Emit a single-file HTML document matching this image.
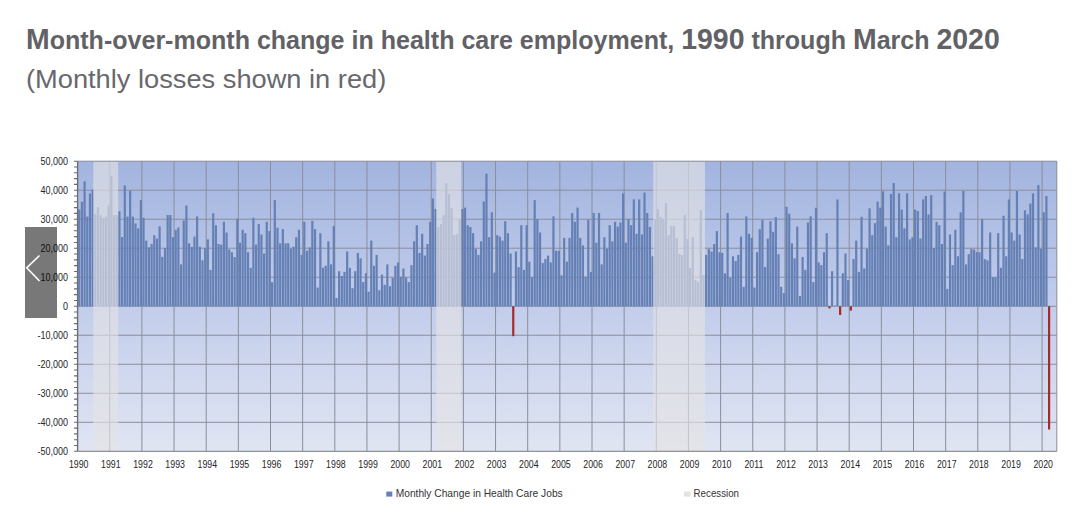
<!DOCTYPE html>
<html><head><meta charset="utf-8"><title>Health care employment chart</title>
<style>
html,body{margin:0;padding:0;background:#fff;}
body{width:1080px;height:515px;overflow:hidden;position:relative;}
#wrap{position:absolute;left:0;top:0;width:1080px;height:515px;background:#fff;}
#chart{position:absolute;left:0;top:0;}
.t{position:absolute;left:0;top:0;white-space:nowrap;font-family:"Liberation Sans",Arial,sans-serif;transform-origin:0 0;}
#title{font-weight:bold;font-size:25.2px;line-height:1;color:#616166;left:26.2px;top:25.2px;transform:scaleX(0.994);}
#title .c{font-size:28.6px;}
#sub{font-size:26.4px;line-height:1;color:#68686d;left:26.3px;top:66px;transform:scaleX(1.032);}
#nav{position:absolute;left:25px;top:227.3px;width:32px;height:90.8px;background:rgba(0,0,0,0.53);}
</style></head><body><div id="wrap">
<svg id="chart" width="1080" height="515" viewBox="0 0 1080 515">
<defs>
<linearGradient id="bg" x1="0" y1="0" x2="0" y2="1">
<stop offset="0" stop-color="#a2b4df"/>
<stop offset="0.5" stop-color="#c2cdeb"/>
<stop offset="1" stop-color="#e0e5f3"/>
</linearGradient>
</defs>
<rect x="77.6" y="161.2" width="979.2" height="290.1" fill="url(#bg)"/>
<path d="M77.6 190.21H1056.8M77.6 219.22H1056.8M77.6 248.23H1056.8M77.6 277.24H1056.8M77.6 306.25H1056.8M77.6 335.26H1056.8M77.6 364.27H1056.8M77.6 393.28H1056.8M77.6 422.29H1056.8" stroke="#8b8e9a" stroke-width="1" fill="none"/>
<path d="M109.75 161.2V451.3M141.9 161.2V451.3M174.05 161.2V451.3M206.2 161.2V451.3M238.35 161.2V451.3M270.5 161.2V451.3M302.65 161.2V451.3M334.8 161.2V451.3M366.95 161.2V451.3M399.1 161.2V451.3M431.25 161.2V451.3M463.4 161.2V451.3M495.55 161.2V451.3M527.7 161.2V451.3M559.85 161.2V451.3M592 161.2V451.3M624.15 161.2V451.3M656.3 161.2V451.3M688.45 161.2V451.3M720.6 161.2V451.3M752.75 161.2V451.3M784.9 161.2V451.3M817.05 161.2V451.3M849.2 161.2V451.3M881.35 161.2V451.3M913.5 161.2V451.3M945.65 161.2V451.3M977.8 161.2V451.3M1009.95 161.2V451.3M1042.1 161.2V451.3" stroke="#8b8e9a" stroke-width="1" fill="none"/>
<g fill="#6580b4"><rect x="78.14" y="209.6" width="2.2" height="96.65"/><rect x="80.82" y="201.7" width="2.2" height="104.55"/><rect x="83.5" y="181.3" width="2.2" height="124.95"/><rect x="86.18" y="216.6" width="2.2" height="89.65"/><rect x="88.86" y="193.5" width="2.2" height="112.75"/><rect x="91.54" y="189.5" width="2.2" height="116.75"/><rect x="94.21" y="213.9" width="2.2" height="92.35"/><rect x="96.89" y="207.1" width="2.2" height="99.15"/><rect x="99.57" y="215.3" width="2.2" height="90.95"/><rect x="102.25" y="218" width="2.2" height="88.25"/><rect x="104.93" y="216.6" width="2.2" height="89.65"/><rect x="107.61" y="205.8" width="2.2" height="100.45"/><rect x="110.29" y="175.9" width="2.2" height="130.35"/><rect x="112.97" y="215.3" width="2.2" height="90.95"/><rect x="115.65" y="215" width="2.2" height="91.25"/><rect x="118.33" y="211.2" width="2.2" height="95.05"/><rect x="121.01" y="237" width="2.2" height="69.25"/><rect x="123.69" y="185.4" width="2.2" height="120.85"/><rect x="126.36" y="216.6" width="2.2" height="89.65"/><rect x="129.04" y="190.8" width="2.2" height="115.45"/><rect x="131.72" y="216.6" width="2.2" height="89.65"/><rect x="134.4" y="223.4" width="2.2" height="82.85"/><rect x="137.08" y="228.4" width="2.2" height="77.85"/><rect x="139.76" y="200.1" width="2.2" height="106.15"/><rect x="142.44" y="217.8" width="2.2" height="88.45"/><rect x="145.12" y="240.6" width="2.2" height="65.65"/><rect x="147.8" y="247.4" width="2.2" height="58.85"/><rect x="150.48" y="244" width="2.2" height="62.25"/><rect x="153.16" y="235.2" width="2.2" height="71.05"/><rect x="155.84" y="238.6" width="2.2" height="67.65"/><rect x="158.51" y="226.3" width="2.2" height="79.95"/><rect x="161.19" y="256.9" width="2.2" height="49.35"/><rect x="163.87" y="248.1" width="2.2" height="58.15"/><rect x="166.55" y="215" width="2.2" height="91.25"/><rect x="169.23" y="215" width="2.2" height="91.25"/><rect x="171.91" y="237.2" width="2.2" height="69.05"/><rect x="174.59" y="229.8" width="2.2" height="76.45"/><rect x="177.27" y="227.5" width="2.2" height="78.75"/><rect x="179.95" y="264.4" width="2.2" height="41.85"/><rect x="182.63" y="220.5" width="2.2" height="85.75"/><rect x="185.31" y="205.5" width="2.2" height="100.75"/><rect x="187.99" y="243.3" width="2.2" height="62.95"/><rect x="190.66" y="247" width="2.2" height="59.25"/><rect x="193.34" y="236.6" width="2.2" height="69.65"/><rect x="196.02" y="216.4" width="2.2" height="89.85"/><rect x="198.7" y="246.7" width="2.2" height="59.55"/><rect x="201.38" y="260.3" width="2.2" height="45.95"/><rect x="204.06" y="248.1" width="2.2" height="58.15"/><rect x="206.74" y="239.3" width="2.2" height="66.95"/><rect x="209.42" y="269.9" width="2.2" height="36.35"/><rect x="212.1" y="213.3" width="2.2" height="92.95"/><rect x="214.78" y="225.2" width="2.2" height="81.05"/><rect x="217.46" y="244" width="2.2" height="62.25"/><rect x="220.14" y="244.7" width="2.2" height="61.55"/><rect x="222.81" y="221.8" width="2.2" height="84.45"/><rect x="225.49" y="232.5" width="2.2" height="73.75"/><rect x="228.17" y="249.5" width="2.2" height="56.75"/><rect x="230.85" y="252.2" width="2.2" height="54.05"/><rect x="233.53" y="257" width="2.2" height="49.25"/><rect x="236.21" y="218.7" width="2.2" height="87.55"/><rect x="238.89" y="242.7" width="2.2" height="63.55"/><rect x="241.57" y="229.8" width="2.2" height="76.45"/><rect x="244.25" y="233.2" width="2.2" height="73.05"/><rect x="246.93" y="252.2" width="2.2" height="54.05"/><rect x="249.61" y="267.8" width="2.2" height="38.45"/><rect x="252.29" y="217.8" width="2.2" height="88.45"/><rect x="254.96" y="244.7" width="2.2" height="61.55"/><rect x="257.64" y="223.9" width="2.2" height="82.35"/><rect x="260.32" y="234.5" width="2.2" height="71.75"/><rect x="263" y="253.5" width="2.2" height="52.75"/><rect x="265.68" y="221.8" width="2.2" height="84.45"/><rect x="268.36" y="231.1" width="2.2" height="75.15"/><rect x="271.04" y="282.1" width="2.2" height="24.15"/><rect x="273.72" y="200.1" width="2.2" height="106.15"/><rect x="276.4" y="227.7" width="2.2" height="78.55"/><rect x="279.08" y="243.3" width="2.2" height="62.95"/><rect x="281.76" y="229.1" width="2.2" height="77.15"/><rect x="284.44" y="243.3" width="2.2" height="62.95"/><rect x="287.11" y="243.3" width="2.2" height="62.95"/><rect x="289.79" y="248.8" width="2.2" height="57.45"/><rect x="292.47" y="246.7" width="2.2" height="59.55"/><rect x="295.15" y="237.2" width="2.2" height="69.05"/><rect x="297.83" y="229.8" width="2.2" height="76.45"/><rect x="300.51" y="254.9" width="2.2" height="51.35"/><rect x="303.19" y="221.8" width="2.2" height="84.45"/><rect x="305.87" y="250.8" width="2.2" height="55.45"/><rect x="308.55" y="247.4" width="2.2" height="58.85"/><rect x="311.23" y="220.9" width="2.2" height="85.35"/><rect x="313.91" y="229.1" width="2.2" height="77.15"/><rect x="316.59" y="287.5" width="2.2" height="18.75"/><rect x="319.26" y="233.2" width="2.2" height="73.05"/><rect x="321.94" y="267.8" width="2.2" height="38.45"/><rect x="324.62" y="265.8" width="2.2" height="40.45"/><rect x="327.3" y="241.3" width="2.2" height="64.95"/><rect x="329.98" y="264.4" width="2.2" height="41.85"/><rect x="332.66" y="225.9" width="2.2" height="80.35"/><rect x="335.34" y="298" width="2.2" height="8.25"/><rect x="338.02" y="271.2" width="2.2" height="35.05"/><rect x="340.7" y="276" width="2.2" height="30.25"/><rect x="343.38" y="271.9" width="2.2" height="34.35"/><rect x="346.06" y="251.5" width="2.2" height="54.75"/><rect x="348.74" y="267.8" width="2.2" height="38.45"/><rect x="351.41" y="288.2" width="2.2" height="18.05"/><rect x="354.09" y="271.2" width="2.2" height="35.05"/><rect x="356.77" y="252.9" width="2.2" height="53.35"/><rect x="359.45" y="258.3" width="2.2" height="47.95"/><rect x="362.13" y="282.1" width="2.2" height="24.15"/><rect x="364.81" y="273.3" width="2.2" height="32.95"/><rect x="367.49" y="291.6" width="2.2" height="14.65"/><rect x="370.17" y="240.6" width="2.2" height="65.65"/><rect x="372.85" y="265.8" width="2.2" height="40.45"/><rect x="375.53" y="254.9" width="2.2" height="51.35"/><rect x="378.21" y="290.2" width="2.2" height="16.05"/><rect x="380.89" y="274.6" width="2.2" height="31.65"/><rect x="383.56" y="284.8" width="2.2" height="21.45"/><rect x="386.24" y="264.4" width="2.2" height="41.85"/><rect x="388.92" y="286.2" width="2.2" height="20.05"/><rect x="391.6" y="278" width="2.2" height="28.25"/><rect x="394.28" y="265.8" width="2.2" height="40.45"/><rect x="396.96" y="262.4" width="2.2" height="43.85"/><rect x="399.64" y="276.7" width="2.2" height="29.55"/><rect x="402.32" y="268.5" width="2.2" height="37.75"/><rect x="405" y="277.3" width="2.2" height="28.95"/><rect x="407.68" y="282.1" width="2.2" height="24.15"/><rect x="410.36" y="265.1" width="2.2" height="41.15"/><rect x="413.04" y="241.3" width="2.2" height="64.95"/><rect x="415.71" y="225.2" width="2.2" height="81.05"/><rect x="418.39" y="252.9" width="2.2" height="53.35"/><rect x="421.07" y="233.8" width="2.2" height="72.45"/><rect x="423.75" y="255.6" width="2.2" height="50.65"/><rect x="426.43" y="244" width="2.2" height="62.25"/><rect x="429.11" y="221.8" width="2.2" height="84.45"/><rect x="431.79" y="198.5" width="2.2" height="107.75"/><rect x="434.47" y="208.9" width="2.2" height="97.35"/><rect x="437.15" y="227" width="2.2" height="79.25"/><rect x="439.83" y="224" width="2.2" height="82.25"/><rect x="442.51" y="215" width="2.2" height="91.25"/><rect x="445.19" y="183" width="2.2" height="123.25"/><rect x="447.86" y="194" width="2.2" height="112.25"/><rect x="450.54" y="208" width="2.2" height="98.25"/><rect x="453.22" y="235" width="2.2" height="71.25"/><rect x="455.9" y="234" width="2.2" height="72.25"/><rect x="458.58" y="219" width="2.2" height="87.25"/><rect x="461.26" y="209" width="2.2" height="97.25"/><rect x="463.94" y="207.6" width="2.2" height="98.65"/><rect x="466.62" y="225.2" width="2.2" height="81.05"/><rect x="469.3" y="227" width="2.2" height="79.25"/><rect x="471.98" y="233.2" width="2.2" height="73.05"/><rect x="474.66" y="248.8" width="2.2" height="57.45"/><rect x="477.34" y="254.9" width="2.2" height="51.35"/><rect x="480.01" y="241.3" width="2.2" height="64.95"/><rect x="482.69" y="201.5" width="2.2" height="104.75"/><rect x="485.37" y="173.6" width="2.2" height="132.65"/><rect x="488.05" y="237.2" width="2.2" height="69.05"/><rect x="490.73" y="212.3" width="2.2" height="93.95"/><rect x="493.41" y="272.6" width="2.2" height="33.65"/><rect x="496.09" y="235.2" width="2.2" height="71.05"/><rect x="498.77" y="236.6" width="2.2" height="69.65"/><rect x="501.45" y="240.6" width="2.2" height="65.65"/><rect x="504.13" y="221.2" width="2.2" height="85.05"/><rect x="506.81" y="233.2" width="2.2" height="73.05"/><rect x="509.49" y="253.5" width="2.2" height="52.75"/><rect x="514.84" y="251.5" width="2.2" height="54.75"/><rect x="517.52" y="267.1" width="2.2" height="39.15"/><rect x="520.2" y="225.2" width="2.2" height="81.05"/><rect x="522.88" y="269.9" width="2.2" height="36.35"/><rect x="525.56" y="225.2" width="2.2" height="81.05"/><rect x="528.24" y="261.7" width="2.2" height="44.55"/><rect x="530.92" y="277.3" width="2.2" height="28.95"/><rect x="533.6" y="200.1" width="2.2" height="106.15"/><rect x="536.28" y="219.1" width="2.2" height="87.15"/><rect x="538.96" y="232.5" width="2.2" height="73.75"/><rect x="541.64" y="263.1" width="2.2" height="43.15"/><rect x="544.31" y="259" width="2.2" height="47.25"/><rect x="546.99" y="255.6" width="2.2" height="50.65"/><rect x="549.67" y="262.4" width="2.2" height="43.85"/><rect x="552.35" y="216.4" width="2.2" height="89.85"/><rect x="555.03" y="250.8" width="2.2" height="55.45"/><rect x="557.71" y="250.8" width="2.2" height="55.45"/><rect x="560.39" y="275.3" width="2.2" height="30.95"/><rect x="563.07" y="237.9" width="2.2" height="68.35"/><rect x="565.75" y="261.7" width="2.2" height="44.55"/><rect x="568.43" y="237.9" width="2.2" height="68.35"/><rect x="571.11" y="213" width="2.2" height="93.25"/><rect x="573.79" y="221.8" width="2.2" height="84.45"/><rect x="576.46" y="207.6" width="2.2" height="98.65"/><rect x="579.14" y="237.9" width="2.2" height="68.35"/><rect x="581.82" y="245.4" width="2.2" height="60.85"/><rect x="584.5" y="276.7" width="2.2" height="29.55"/><rect x="587.18" y="219.8" width="2.2" height="86.45"/><rect x="589.86" y="271.9" width="2.2" height="34.35"/><rect x="592.54" y="213" width="2.2" height="93.25"/><rect x="595.22" y="242.7" width="2.2" height="63.55"/><rect x="597.9" y="213" width="2.2" height="93.25"/><rect x="600.58" y="264.4" width="2.2" height="41.85"/><rect x="603.26" y="237.2" width="2.2" height="69.05"/><rect x="605.94" y="248.8" width="2.2" height="57.45"/><rect x="608.61" y="225.2" width="2.2" height="81.05"/><rect x="611.29" y="241.3" width="2.2" height="64.95"/><rect x="613.97" y="221.8" width="2.2" height="84.45"/><rect x="616.65" y="226.6" width="2.2" height="79.65"/><rect x="619.33" y="222.5" width="2.2" height="83.75"/><rect x="622.01" y="193.3" width="2.2" height="112.95"/><rect x="624.69" y="242.7" width="2.2" height="63.55"/><rect x="627.37" y="219.1" width="2.2" height="87.15"/><rect x="630.05" y="225.2" width="2.2" height="81.05"/><rect x="632.73" y="199.4" width="2.2" height="106.85"/><rect x="635.41" y="233.8" width="2.2" height="72.45"/><rect x="638.09" y="199.4" width="2.2" height="106.85"/><rect x="640.76" y="234.5" width="2.2" height="71.75"/><rect x="643.44" y="192.6" width="2.2" height="113.65"/><rect x="646.12" y="213" width="2.2" height="93.25"/><rect x="648.8" y="227" width="2.2" height="79.25"/><rect x="651.48" y="256.3" width="2.2" height="49.95"/><rect x="654.16" y="219" width="2.2" height="87.25"/><rect x="656.84" y="209" width="2.2" height="97.25"/><rect x="659.52" y="217" width="2.2" height="89.25"/><rect x="662.2" y="219" width="2.2" height="87.25"/><rect x="664.88" y="203" width="2.2" height="103.25"/><rect x="667.56" y="235" width="2.2" height="71.25"/><rect x="670.24" y="226" width="2.2" height="80.25"/><rect x="672.91" y="226" width="2.2" height="80.25"/><rect x="675.59" y="238" width="2.2" height="68.25"/><rect x="678.27" y="254" width="2.2" height="52.25"/><rect x="680.95" y="255" width="2.2" height="51.25"/><rect x="683.63" y="215" width="2.2" height="91.25"/><rect x="686.31" y="239" width="2.2" height="67.25"/><rect x="688.99" y="268" width="2.2" height="38.25"/><rect x="691.67" y="237" width="2.2" height="69.25"/><rect x="694.35" y="280" width="2.2" height="26.25"/><rect x="697.03" y="282" width="2.2" height="24.25"/><rect x="699.71" y="210" width="2.2" height="96.25"/><rect x="702.39" y="275" width="2.2" height="31.25"/><rect x="705.06" y="254.9" width="2.2" height="51.35"/><rect x="707.74" y="248.8" width="2.2" height="57.45"/><rect x="710.42" y="251.5" width="2.2" height="54.75"/><rect x="713.1" y="244" width="2.2" height="62.25"/><rect x="715.78" y="231.1" width="2.2" height="75.15"/><rect x="718.46" y="252.2" width="2.2" height="54.05"/><rect x="721.14" y="252.9" width="2.2" height="53.35"/><rect x="723.82" y="273.3" width="2.2" height="32.95"/><rect x="726.5" y="213" width="2.2" height="93.25"/><rect x="729.18" y="278" width="2.2" height="28.25"/><rect x="731.86" y="256.3" width="2.2" height="49.95"/><rect x="734.54" y="261" width="2.2" height="45.25"/><rect x="737.21" y="254.9" width="2.2" height="51.35"/><rect x="739.89" y="236.6" width="2.2" height="69.65"/><rect x="742.57" y="286.8" width="2.2" height="19.45"/><rect x="745.25" y="216.4" width="2.2" height="89.85"/><rect x="747.93" y="233.8" width="2.2" height="72.45"/><rect x="750.61" y="237.9" width="2.2" height="68.35"/><rect x="753.29" y="287.5" width="2.2" height="18.75"/><rect x="755.97" y="252.2" width="2.2" height="54.05"/><rect x="758.65" y="229.1" width="2.2" height="77.15"/><rect x="761.33" y="219.8" width="2.2" height="86.45"/><rect x="764.01" y="267.1" width="2.2" height="39.15"/><rect x="766.69" y="238.6" width="2.2" height="67.65"/><rect x="769.36" y="221.2" width="2.2" height="85.05"/><rect x="772.04" y="231.8" width="2.2" height="74.45"/><rect x="774.72" y="217.1" width="2.2" height="89.15"/><rect x="777.4" y="254.2" width="2.2" height="52.05"/><rect x="780.08" y="286.8" width="2.2" height="19.45"/><rect x="782.76" y="293" width="2.2" height="13.25"/><rect x="785.44" y="206.9" width="2.2" height="99.35"/><rect x="788.12" y="213.7" width="2.2" height="92.55"/><rect x="790.8" y="243.3" width="2.2" height="62.95"/><rect x="793.48" y="258.3" width="2.2" height="47.95"/><rect x="796.16" y="226.6" width="2.2" height="79.65"/><rect x="798.84" y="296" width="2.2" height="10.25"/><rect x="801.51" y="256.9" width="2.2" height="49.35"/><rect x="804.19" y="269.9" width="2.2" height="36.35"/><rect x="806.87" y="222.5" width="2.2" height="83.75"/><rect x="809.55" y="216.4" width="2.2" height="89.85"/><rect x="812.23" y="282.1" width="2.2" height="24.15"/><rect x="814.91" y="207.8" width="2.2" height="98.45"/><rect x="817.59" y="262.4" width="2.2" height="43.85"/><rect x="820.27" y="265.1" width="2.2" height="41.15"/><rect x="822.95" y="252.2" width="2.2" height="54.05"/><rect x="825.63" y="233.2" width="2.2" height="73.05"/><rect x="830.99" y="271.2" width="2.2" height="35.05"/><rect x="833.66" y="305.7" width="2.2" height="0.55"/><rect x="836.34" y="199.4" width="2.2" height="106.85"/><rect x="841.7" y="273.3" width="2.2" height="32.95"/><rect x="844.38" y="253.5" width="2.2" height="52.75"/><rect x="847.06" y="280.1" width="2.2" height="26.15"/><rect x="852.42" y="259" width="2.2" height="47.25"/><rect x="855.1" y="240.6" width="2.2" height="65.65"/><rect x="857.78" y="271.9" width="2.2" height="34.35"/><rect x="860.46" y="216.8" width="2.2" height="89.45"/><rect x="863.14" y="268.5" width="2.2" height="37.75"/><rect x="865.81" y="248.8" width="2.2" height="57.45"/><rect x="868.49" y="208.3" width="2.2" height="97.95"/><rect x="871.17" y="235.2" width="2.2" height="71.05"/><rect x="873.85" y="223.2" width="2.2" height="83.05"/><rect x="876.53" y="201.5" width="2.2" height="104.75"/><rect x="879.21" y="207.6" width="2.2" height="98.65"/><rect x="881.89" y="191.3" width="2.2" height="114.95"/><rect x="884.57" y="226.6" width="2.2" height="79.65"/><rect x="887.25" y="245.4" width="2.2" height="60.85"/><rect x="889.93" y="194" width="2.2" height="112.25"/><rect x="892.61" y="183.1" width="2.2" height="123.15"/><rect x="895.29" y="237.2" width="2.2" height="69.05"/><rect x="897.96" y="193.3" width="2.2" height="112.95"/><rect x="900.64" y="209.6" width="2.2" height="96.65"/><rect x="903.32" y="228.4" width="2.2" height="77.85"/><rect x="906" y="193.3" width="2.2" height="112.95"/><rect x="908.68" y="239.3" width="2.2" height="66.95"/><rect x="911.36" y="237.2" width="2.2" height="69.05"/><rect x="914.04" y="209.6" width="2.2" height="96.65"/><rect x="916.72" y="211" width="2.2" height="95.25"/><rect x="919.4" y="238.6" width="2.2" height="67.65"/><rect x="922.08" y="199.4" width="2.2" height="106.85"/><rect x="924.76" y="196" width="2.2" height="110.25"/><rect x="927.44" y="214.4" width="2.2" height="91.85"/><rect x="930.11" y="195.1" width="2.2" height="111.15"/><rect x="932.79" y="248.1" width="2.2" height="58.15"/><rect x="935.47" y="221.8" width="2.2" height="84.45"/><rect x="938.15" y="225.2" width="2.2" height="81.05"/><rect x="940.83" y="244" width="2.2" height="62.25"/><rect x="943.51" y="191.5" width="2.2" height="114.75"/><rect x="946.19" y="288.9" width="2.2" height="17.35"/><rect x="948.87" y="234.5" width="2.2" height="71.75"/><rect x="951.55" y="265.1" width="2.2" height="41.15"/><rect x="954.23" y="229.8" width="2.2" height="76.45"/><rect x="956.91" y="256.3" width="2.2" height="49.95"/><rect x="959.59" y="212.3" width="2.2" height="93.95"/><rect x="962.26" y="191" width="2.2" height="115.25"/><rect x="964.94" y="264.4" width="2.2" height="41.85"/><rect x="967.62" y="254.2" width="2.2" height="52.05"/><rect x="970.3" y="248.8" width="2.2" height="57.45"/><rect x="972.98" y="249.5" width="2.2" height="56.75"/><rect x="975.66" y="252" width="2.2" height="54.25"/><rect x="978.34" y="252.2" width="2.2" height="54.05"/><rect x="981.02" y="219.1" width="2.2" height="87.15"/><rect x="983.7" y="259" width="2.2" height="47.25"/><rect x="986.38" y="260.3" width="2.2" height="45.95"/><rect x="989.06" y="232.5" width="2.2" height="73.75"/><rect x="991.74" y="277.3" width="2.2" height="28.95"/><rect x="994.41" y="277.3" width="2.2" height="28.95"/><rect x="997.09" y="233.2" width="2.2" height="73.05"/><rect x="999.77" y="267.8" width="2.2" height="38.45"/><rect x="1002.45" y="215.7" width="2.2" height="90.55"/><rect x="1005.13" y="256.3" width="2.2" height="49.95"/><rect x="1007.81" y="199.4" width="2.2" height="106.85"/><rect x="1010.49" y="232.5" width="2.2" height="73.75"/><rect x="1013.17" y="240.6" width="2.2" height="65.65"/><rect x="1015.85" y="191" width="2.2" height="115.25"/><rect x="1018.53" y="234.5" width="2.2" height="71.75"/><rect x="1021.21" y="259" width="2.2" height="47.25"/><rect x="1023.89" y="210.3" width="2.2" height="95.95"/><rect x="1026.56" y="214.4" width="2.2" height="91.85"/><rect x="1029.24" y="203.5" width="2.2" height="102.75"/><rect x="1031.92" y="193.3" width="2.2" height="112.95"/><rect x="1034.6" y="247.4" width="2.2" height="58.85"/><rect x="1037.28" y="185.1" width="2.2" height="121.15"/><rect x="1039.96" y="248.8" width="2.2" height="57.45"/><rect x="1042.64" y="212.3" width="2.2" height="93.95"/><rect x="1045.32" y="196" width="2.2" height="110.25"/></g>
<g fill="#a8292b"><rect x="512.16" y="306.25" width="2.2" height="29.95"/><rect x="828.31" y="306.25" width="2.2" height="2.15"/><rect x="839.02" y="306.25" width="2.2" height="8.75"/><rect x="849.74" y="306.25" width="2.2" height="4.35"/><rect x="1048" y="306.25" width="2.2" height="123.25"/></g>
<g fill="#e4e3e4" fill-opacity="0.64"><rect x="93.27" y="161.2" width="24.91" height="290.1"/><rect x="436.21" y="161.2" width="24.91" height="290.1"/><rect x="653.22" y="161.2" width="51.7" height="290.1"/></g>
<path d="M77.6 161.2H1056.8V451.3" stroke="#8a8d99" stroke-width="1" fill="none"/>
<path d="M77.6 451.3H1056.8" stroke="#7a7a7a" stroke-width="1" fill="none"/>
<path d="M77.6 161.2V451.3" stroke="#6c6e78" stroke-width="1.4" fill="none"/>
<path d="M74 161.2H77.6M74 167H77.6M74 172.8H77.6M74 178.61H77.6M74 184.41H77.6M74 190.21H77.6M74 196.01H77.6M74 201.81H77.6M74 207.62H77.6M74 213.42H77.6M74 219.22H77.6M74 225.02H77.6M74 230.82H77.6M74 236.63H77.6M74 242.43H77.6M74 248.23H77.6M74 254.03H77.6M74 259.83H77.6M74 265.64H77.6M74 271.44H77.6M74 277.24H77.6M74 283.04H77.6M74 288.84H77.6M74 294.65H77.6M74 300.45H77.6M74 306.25H77.6M74 312.05H77.6M74 317.85H77.6M74 323.66H77.6M74 329.46H77.6M74 335.26H77.6M74 341.06H77.6M74 346.86H77.6M74 352.67H77.6M74 358.47H77.6M74 364.27H77.6M74 370.07H77.6M74 375.87H77.6M74 381.68H77.6M74 387.48H77.6M74 393.28H77.6M74 399.08H77.6M74 404.88H77.6M74 410.69H77.6M74 416.49H77.6M74 422.29H77.6M74 428.09H77.6M74 433.89H77.6M74 439.7H77.6M74 445.5H77.6M74 451.3H77.6" stroke="#6a6a6a" stroke-width="1.1" fill="none"/>
<g font-family="Liberation Sans, Arial, sans-serif" font-size="10" fill="#262626" text-anchor="end"><text transform="translate(68 164.8) scale(0.9 1)">50,000</text><text transform="translate(68 193.81) scale(0.9 1)">40,000</text><text transform="translate(68 222.82) scale(0.9 1)">30,000</text><text transform="translate(68 251.83) scale(0.9 1)">20,000</text><text transform="translate(68 280.84) scale(0.9 1)">10,000</text><text transform="translate(68 309.85) scale(0.9 1)">0</text><text transform="translate(68 338.86) scale(0.9 1)">-10,000</text><text transform="translate(68 367.87) scale(0.9 1)">-20,000</text><text transform="translate(68 396.88) scale(0.9 1)">-30,000</text><text transform="translate(68 425.89) scale(0.9 1)">-40,000</text><text transform="translate(68 454.9) scale(0.9 1)">-50,000</text></g>
<g font-family="Liberation Sans, Arial, sans-serif" font-size="10" fill="#262626" text-anchor="middle"><text transform="translate(78.7 467.6) scale(0.88 1)">1990</text><text transform="translate(110.85 467.6) scale(0.88 1)">1991</text><text transform="translate(143 467.6) scale(0.88 1)">1992</text><text transform="translate(175.15 467.6) scale(0.88 1)">1993</text><text transform="translate(207.3 467.6) scale(0.88 1)">1994</text><text transform="translate(239.45 467.6) scale(0.88 1)">1995</text><text transform="translate(271.6 467.6) scale(0.88 1)">1996</text><text transform="translate(303.75 467.6) scale(0.88 1)">1997</text><text transform="translate(335.9 467.6) scale(0.88 1)">1998</text><text transform="translate(368.05 467.6) scale(0.88 1)">1999</text><text transform="translate(400.2 467.6) scale(0.88 1)">2000</text><text transform="translate(432.35 467.6) scale(0.88 1)">2001</text><text transform="translate(464.5 467.6) scale(0.88 1)">2002</text><text transform="translate(496.65 467.6) scale(0.88 1)">2003</text><text transform="translate(528.8 467.6) scale(0.88 1)">2004</text><text transform="translate(560.95 467.6) scale(0.88 1)">2005</text><text transform="translate(593.1 467.6) scale(0.88 1)">2006</text><text transform="translate(625.25 467.6) scale(0.88 1)">2007</text><text transform="translate(657.4 467.6) scale(0.88 1)">2008</text><text transform="translate(689.55 467.6) scale(0.88 1)">2009</text><text transform="translate(721.7 467.6) scale(0.88 1)">2010</text><text transform="translate(753.85 467.6) scale(0.88 1)">2011</text><text transform="translate(786 467.6) scale(0.88 1)">2012</text><text transform="translate(818.15 467.6) scale(0.88 1)">2013</text><text transform="translate(850.3 467.6) scale(0.88 1)">2014</text><text transform="translate(882.45 467.6) scale(0.88 1)">2015</text><text transform="translate(914.6 467.6) scale(0.88 1)">2016</text><text transform="translate(946.75 467.6) scale(0.88 1)">2017</text><text transform="translate(978.9 467.6) scale(0.88 1)">2018</text><text transform="translate(1011.05 467.6) scale(0.88 1)">2019</text><text transform="translate(1043.2 467.6) scale(0.88 1)">2020</text></g>
<rect x="386.3" y="491.6" width="6" height="5" fill="#6580b4"/>
<text x="395.7" y="496.7" font-family="Liberation Sans, Arial, sans-serif" font-size="10.2" fill="#333" textLength="167" lengthAdjust="spacingAndGlyphs">Monthly Change in Health Care Jobs</text>
<rect x="684" y="491.6" width="6.4" height="5" fill="#e2e2e4"/>
<text x="693.6" y="496.7" font-family="Liberation Sans, Arial, sans-serif" font-size="10.2" fill="#333" textLength="45.4" lengthAdjust="spacingAndGlyphs">Recession</text>
</svg>
<div class="t" id="title"><span class="c">M</span>onth-over-month change in health care employment, <span class="c">1990</span> through <span class="c">M</span>arch <span class="c">2020</span></div>
<div class="t" id="sub">(Monthly losses shown in red)</div>
<div id="nav"><svg width="32" height="91" viewBox="0 0 32 91"><path d="M14.5 28.5 L1.7 40.8 L14.5 54" stroke="#fff" stroke-width="1.6" fill="none"/></svg></div>
</div></body></html>
